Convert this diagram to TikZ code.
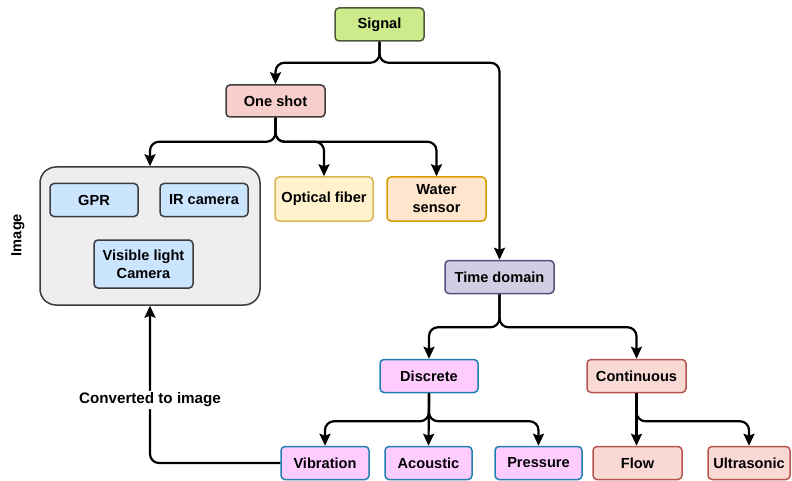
\documentclass[tikz,border=0pt]{standalone}
\usepackage{fontspec}
\setmainfont{Liberation Sans}
\usetikzlibrary{arrows.meta}
\definecolor{sigfill}{HTML}{CDEB8B}
\definecolor{sigdraw}{HTML}{4A5A3A}
\definecolor{osfill}{HTML}{F8CECC}
\definecolor{grayd}{HTML}{3D3D3D}
\definecolor{contfill}{HTML}{EEEEEE}
\definecolor{bluefill}{HTML}{CCE5FF}
\definecolor{optfill}{HTML}{FFF2CC}
\definecolor{optdraw}{HTML}{D6B656}
\definecolor{watfill}{HTML}{FFE6CC}
\definecolor{watdraw}{HTML}{D79B00}
\definecolor{tdfill}{HTML}{D0CEE2}
\definecolor{tddraw}{HTML}{56517E}
\definecolor{pinkfill}{HTML}{FFCCFF}
\definecolor{pinkdraw}{HTML}{1F7FB0}
\definecolor{redfill}{HTML}{FAD9D5}
\definecolor{reddraw}{HTML}{B85450}
\tikzset{
  box/.style={draw, rounded corners=4pt, line width=1.5pt, align=center,
    font=\fontsize{14.6}{18}\selectfont\bfseries, inner sep=0pt},
  conn/.style={draw=black, line width=2.2pt, rounded corners=9pt,
    -{Stealth[length=12pt,width=11pt,inset=2pt]}},
}
\begin{document}
\begin{tikzpicture}[x=1pt,y=-1pt]
\useasboundingbox (0,0) rectangle (792,481);
% top
\node[box, fill=sigfill, draw=sigdraw, minimum width=89pt, minimum height=33pt] (signal) at (379.5,24.5) {Signal};
\node[box, fill=osfill, draw=grayd, minimum width=99pt, minimum height=32pt] (oneshot) at (275.5,101) {One shot};
% container
\node[draw=grayd, fill=contfill, rounded corners=16pt, line width=1.5pt, minimum width=220pt, minimum height=138pt, inner sep=0pt] (img) at (150,236) {};
\node[font=\fontsize{14.6}{15.5}\selectfont\bfseries, rotate=90] (imglabel) at (18,235) {Image};
\node[box, fill=bluefill, draw=grayd, minimum width=88pt, minimum height=33pt] (gpr) at (94,200) {GPR};
\node[box, fill=bluefill, draw=grayd, minimum width=88pt, minimum height=33pt] (ir) at (204,200) {IR camera};
\node[box, fill=bluefill, draw=grayd, minimum width=99pt, minimum height=48pt] (vis) at (143.5,264) {Visible light\\Camera};
\node[box, fill=optfill, draw=optdraw, minimum width=98pt, minimum height=44pt] (opt) at (324,199) {Optical fiber};
\node[box, fill=watfill, draw=watdraw, minimum width=99pt, minimum height=44pt] (wat) at (436.5,199) {Water\\sensor};
% time domain
\node[box, fill=tdfill, draw=tddraw, minimum width=109pt, minimum height=33pt] (td) at (499.5,277) {Time domain};
\node[box, fill=pinkfill, draw=pinkdraw, minimum width=98pt, minimum height=33pt] (disc) at (429,376) {Discrete};
\node[box, fill=redfill, draw=reddraw, minimum width=99pt, minimum height=33pt] (cont) at (636.5,376) {Continuous};
\node[box, fill=pinkfill, draw=pinkdraw, minimum width=88pt, minimum height=33pt] (vib) at (325,463) {Vibration};
\node[box, fill=pinkfill, draw=pinkdraw, minimum width=87pt, minimum height=33pt] (aco) at (428.5,463) {Acoustic};
\node[box, fill=pinkfill, draw=pinkdraw, minimum width=87pt, minimum height=33pt] (pre) at (538.5,463) {Pressure};
\node[box, fill=redfill, draw=reddraw, minimum width=89pt, minimum height=33pt] (flow) at (637.5,463) {Flow};
\node[box, fill=redfill, draw=reddraw, minimum width=82pt, minimum height=33pt] (ult) at (749,463) {Ultrasonic};
% connectors
\draw[conn] (signal.south) -- ++(0,21) -| (oneshot.north);
\draw[conn] (signal.south) -- ++(0,21) -| (td.north);
\draw[conn] (oneshot.south) -- ++(0,24) -| (img.north);
\draw[conn] (oneshot.south) -- ++(0,24) -| (opt.north);
\draw[conn] (oneshot.south) -- ++(0,24) -| (wat.north);
\draw[conn] (td.south) -- ++(0,33) -| (disc.north);
\draw[conn] (td.south) -- ++(0,33) -| (cont.north);
\draw[conn] (disc.south) -- ++(0,28) -| (vib.north);
\draw[conn, rounded corners=0pt] (disc.south) -- (aco.north);
\draw[conn] (disc.south) -- ++(0,28) -| (pre.north);
\draw[conn, rounded corners=0pt] (cont.south) -- (cont.south |- flow.north);
\draw[conn] (cont.south) -- ++(0,28) -| (ult.north);
\draw[conn] (vib.west) -| (img.south) node[pos=0.7, fill=white, inner sep=2pt, font=\fontsize{15.2}{16}\selectfont\bfseries] (convlabel) {Converted to image};
\end{tikzpicture}
\end{document}
